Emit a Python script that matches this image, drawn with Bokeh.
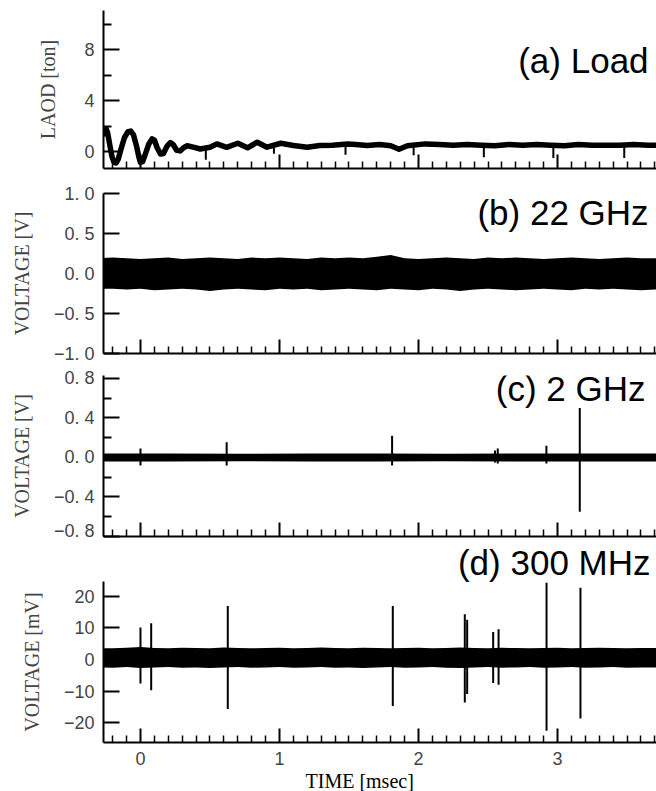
from bokeh.plotting import figure
from bokeh.layouts import column
from bokeh.models import (Range1d, FixedTicker, Label, Title, CustomJSTickFormatter,
                          CustomLabelingPolicy)
from bokeh.embed import file_html
from bokeh.resources import INLINE

# ---- time axis (msec) ----
x_major = [0, 1, 2, 3]
x_minor = [round(i * 0.1, 1) for i in range(-2, 38) if i % 10 != 0]

# ---- (a) load trace [ton] ----
load_t = [-0.266, -0.256, -0.246, -0.236, -0.222, -0.205, -0.19, -0.175, -0.16, -0.14,
          -0.115, -0.09, -0.07, -0.05, -0.03, -0.012, 0.0, 0.015, 0.035, 0.06,
          0.084, 0.1, 0.12, 0.144, 0.165, 0.19, 0.215, 0.235, 0.26, 0.285,
          0.31, 0.336, 0.38, 0.43, 0.5, 0.55, 0.62, 0.70, 0.77, 0.84,
          0.91, 1.01, 1.1, 1.2, 1.29, 1.38, 1.49, 1.55, 1.63, 1.72,
          1.80, 1.86, 1.92, 2.05, 2.15, 2.25, 2.35, 2.45, 2.55, 2.65,
          2.75, 2.85, 2.95, 3.05, 3.15, 3.25, 3.35, 3.45, 3.55, 3.65,
          3.712]
load_v = [1.2, 1.65, 1.75, 1.45, 0.6, -0.4, -0.85, -0.9, -0.6, 0.2,
          1.1, 1.55, 1.6, 1.3, 0.5, -0.4, -0.85, -0.8, -0.2, 0.6,
          1.0, 0.9, 0.3, -0.2, -0.15, 0.4, 0.7, 0.55, 0.1, 0.05,
          0.3, 0.45, 0.35, 0.2, 0.33, 0.6, 0.33, 0.65, 0.29, 0.73,
          0.34, 0.65, 0.47, 0.34, 0.47, 0.5, 0.6, 0.55, 0.47, 0.55,
          0.45, 0.18, 0.45, 0.6, 0.55, 0.5, 0.55, 0.5, 0.45, 0.55,
          0.5, 0.55, 0.5, 0.45, 0.55, 0.5, 0.5, 0.5, 0.55, 0.5,
          0.5]
load_dip_t = [0.47, 0.96, 1.475, 1.965, 2.47, 2.97, 3.48]
load_dip_v = [-0.65, -0.17, -0.25, -0.3, -0.45, -0.5, -0.5]

# ---- (b) 22 GHz noise envelope [V] ----
b_t = [-0.3, -0.2, -0.1, 0.0, 0.1, 0.2, 0.3, 0.4, 0.5, 0.6, 0.7, 0.8, 0.9, 1.0,
       1.1, 1.2, 1.3, 1.4, 1.5, 1.6, 1.7, 1.8, 1.9, 2.0, 2.1, 2.2, 2.3, 2.4,
       2.5, 2.6, 2.7, 2.8, 2.9, 3.0, 3.1, 3.2, 3.3, 3.4, 3.5, 3.6, 3.7, 3.8]
b_hi = [0.19, 0.20, 0.19, 0.18, 0.19, 0.20, 0.18, 0.19, 0.20, 0.19, 0.18, 0.20, 0.19, 0.20,
        0.19, 0.18, 0.20, 0.19, 0.20, 0.19, 0.21, 0.23, 0.19, 0.18, 0.19, 0.20, 0.19, 0.18,
        0.20, 0.19, 0.20, 0.19, 0.18, 0.19, 0.20, 0.19, 0.18, 0.19, 0.20, 0.19, 0.19, 0.19]
b_lo = [-0.19, -0.19, -0.20, -0.19, -0.21, -0.20, -0.19, -0.20, -0.22, -0.20, -0.19, -0.20, -0.21, -0.19,
        -0.20, -0.19, -0.21, -0.20, -0.19, -0.20, -0.21, -0.19, -0.20, -0.21, -0.19, -0.20, -0.22, -0.20,
        -0.19, -0.20, -0.21, -0.20, -0.19, -0.20, -0.21, -0.19, -0.20, -0.19, -0.20, -0.21, -0.20, -0.20]

# ---- (c) 2 GHz trace [V] ----
c_t = [-0.3, 0.2, 0.7, 1.2, 1.7, 2.2, 2.7, 3.2, 3.8]
c_hi = [0.04, 0.04, 0.038, 0.04, 0.04, 0.038, 0.04, 0.04, 0.04]
c_lo = [-0.04, -0.04, -0.038, -0.04, -0.04, -0.038, -0.04, -0.04, -0.04]
c_spike_t = [0.0, 0.62, 1.81, 2.55, 2.57, 2.92, 3.16]
c_spike_hi = [0.09, 0.155, 0.22, 0.07, 0.09, 0.12, 0.50]
c_spike_lo = [-0.08, -0.08, -0.08, -0.05, -0.06, -0.06, -0.55]

# ---- (d) 300 MHz trace [mV] ----
d_t = b_t
d_hi = [3.6, 3.5, 3.7, 3.9, 3.6, 3.5, 3.7, 3.6, 3.5, 3.8, 3.6, 3.5, 3.6, 3.7,
        3.5, 3.6, 3.8, 3.6, 3.5, 3.7, 3.6, 3.5, 3.6, 3.7, 3.5, 3.6, 3.8, 3.6,
        3.5, 3.7, 3.6, 3.5, 3.6, 3.7, 3.5, 3.6, 3.7, 3.6, 3.5, 3.6, 3.6, 3.6]
d_lo = [-2.5, -2.6, -2.4, -2.7, -2.5, -2.4, -2.6, -2.5, -2.7, -2.5, -2.4, -2.6, -2.5, -2.4,
        -2.6, -2.5, -2.4, -2.6, -2.5, -2.7, -2.5, -2.4, -2.6, -2.5, -2.4, -2.6, -2.7, -2.5,
        -2.4, -2.6, -2.5, -2.4, -2.6, -2.5, -2.4, -2.6, -2.5, -2.4, -2.6, -2.5, -2.5, -2.5]
d_spike_t = [0.0, 0.077, 0.628, 1.815, 2.333, 2.35, 2.537, 2.576, 2.921, 3.165]
d_spike_hi = [10.1, 11.4, 16.9, 16.9, 14.3, 12.5, 8.7, 9.5, 24.2, 22.6]
d_spike_lo = [-7.6, -9.7, -15.6, -14.7, -13.6, -10.9, -7.4, -8.0, -22.5, -18.6]

SANS = "Liberation Sans"
SERIF = "Liberation Serif"

x_range = Range1d(-0.266, 3.712)

hide_all = CustomLabelingPolicy(code="""
    for (const i of indices) { indices.unset(i) }
    return indices
""")


def panel(height, top, bottom, y0, y1, yticks, yminor, ylabel, fmt, label_standoff,
          show_x_labels=False):
    p = figure(width=656, height=height, x_range=x_range, y_range=Range1d(y0, y1),
               output_backend="svg", toolbar_location=None,
               min_border_left=103, min_border_right=0,
               min_border_top=top, min_border_bottom=bottom)
    p.outline_line_color = None
    p.grid.visible = False
    p.background_fill_color = "white"
    p.border_fill_color = "white"

    xa = p.xaxis[0]
    xa.ticker = FixedTicker(ticks=x_major, minor_ticks=x_minor)
    xa.axis_line_width = 2
    xa.major_tick_in = 14
    xa.major_tick_out = 0
    xa.minor_tick_in = 7
    xa.minor_tick_out = 0
    xa.major_tick_line_width = 2
    xa.minor_tick_line_width = 1.5
    if show_x_labels:
        xa.formatter = CustomJSTickFormatter(code="return tick.toFixed(0);")
        xa.major_label_text_font = SANS
        xa.major_label_text_font_size = "18px"
        xa.major_label_standoff = 9
    else:
        xa.major_label_policy = hide_all
        xa.major_label_text_font_size = "0px"
        xa.major_label_standoff = 0

    ya = p.yaxis[0]
    ya.ticker = FixedTicker(ticks=yticks, minor_ticks=yminor)
    ya.formatter = CustomJSTickFormatter(code=fmt)
    ya.axis_line_width = 2
    ya.major_tick_in = 16
    ya.major_tick_out = 0
    ya.minor_tick_in = 8
    ya.minor_tick_out = 0
    ya.major_tick_line_width = 2
    ya.minor_tick_line_width = 2
    ya.major_label_text_font = SANS
    ya.major_label_text_font_size = "18px"
    ya.major_label_standoff = 9
    ya.axis_label = ylabel
    ya.axis_label_text_font = SERIF
    ya.axis_label_text_font_style = "normal"
    ya.axis_label_text_font_size = "20px"
    ya.axis_label_standoff = label_standoff
    return p


def title(p, x, y, text):
    p.add_layout(Label(x=x, y=y, text=text, text_align="right",
                       text_baseline="alphabetic", text_font=SANS,
                       text_font_size="35px", text_color="black"))


fmt_int = "return tick.toFixed(0).replace('-', '\u2212');"
fmt_dec = "return tick.toFixed(1).replace('.', '. ').replace('-', '\u2212');"

# (a) Load
pa = panel(180, 10, 12, -1.33, 11.06, [0, 4, 8], [2, 6, 10], "LAOD [ton]", fmt_int, 22)
pa.line(load_t, load_v, line_color="black", line_width=5.5, line_join="round")
pa.segment(x0=load_dip_t, y0=[0.4] * len(load_dip_t), x1=load_dip_t, y1=load_dip_v,
           line_color="black", line_width=2)
title(pa, 3.655, 7.1, "(a) Load")

# (b) 22 GHz
pb = panel(183, 13, 10, -1.0, 1.0, [-1, -0.5, 0, 0.5, 1], [], "VOLTAGE [V]", fmt_dec, 18)
pb.varea(x=b_t, y1=b_lo, y2=b_hi, fill_color="black")
title(pb, 3.655, 0.76, "(b) 22 GHz")

# (c) 2 GHz
pc = panel(177, 12, 4, -0.8, 0.83, [-0.8, -0.4, 0, 0.4, 0.8], [-0.6, -0.2, 0.2, 0.6],
           "VOLTAGE [V]", fmt_dec, 18)
pc.varea(x=c_t, y1=c_lo, y2=c_hi, fill_color="black")
pc.segment(x0=c_spike_t, y0=c_spike_lo, x1=c_spike_t, y1=c_spike_hi,
           line_color="black", line_width=2)
title(pc, 3.633, 0.70, "(c) 2 GHz")

# (d) 300 MHz
pd_ = panel(251, 0, 0, -26.2, 24.6, [-20, -10, 0, 10, 20], [], "VOLTAGE [mV]", fmt_int, 18,
            show_x_labels=True)
pd_.varea(x=d_t, y1=d_lo, y2=d_hi, fill_color="black")
pd_.segment(x0=d_spike_t, y0=d_spike_lo, x1=d_spike_t, y1=d_spike_hi,
            line_color="black", line_width=2)
pd_.add_layout(Title(text="(d) 300 MHz", align="right", offset=6, standoff=0,
                     text_font=SANS, text_font_size="35px", text_font_style="normal",
                     text_color="black"), "above")
pd_.add_layout(Title(text="TIME [msec]", align="left", offset=202, standoff=0,
                     text_font=SERIF, text_font_size="20px", text_font_style="normal",
                     text_color="black"), "below")

layout = column(pa, pb, pc, pd_, spacing=0)
open("out.html", "w").write(file_html(layout, INLINE))
